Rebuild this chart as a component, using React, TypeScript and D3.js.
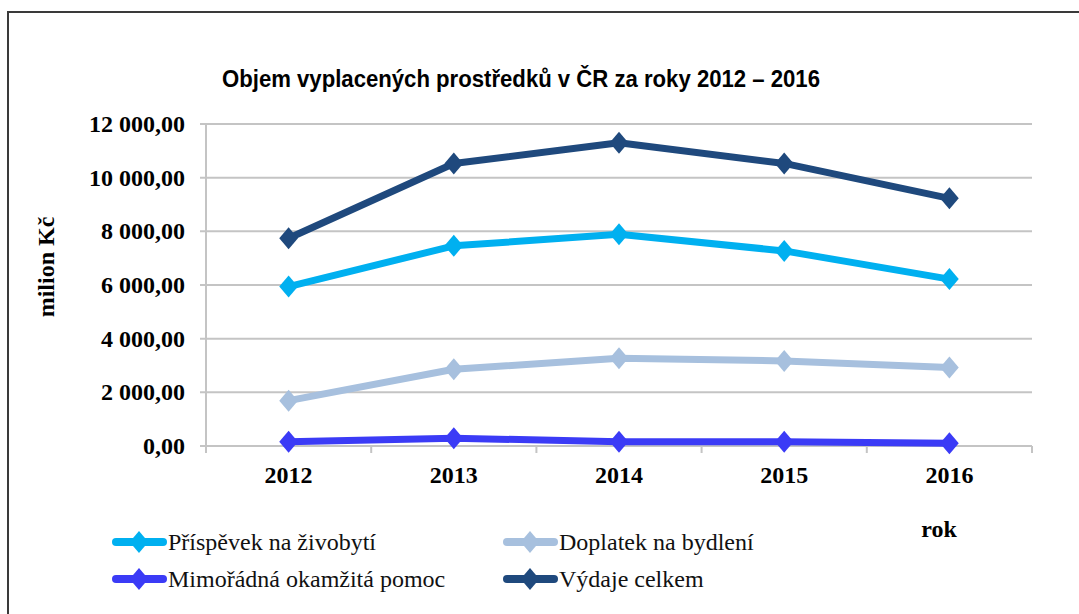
import React, { useEffect, useRef } from 'react';
import * as d3 from 'd3';

// Chart data
const years = ['2012', '2013', '2014', '2015', '2016'];
const prispevek = [5940, 7460, 7890, 7270, 6220];
const doplatek = [1690, 2860, 3270, 3170, 2930];
const mimoradna = [160, 290, 160, 160, 100];
const vydaje = [7740, 10530, 11300, 10530, 9230];
const yTicks = [0, 2000, 4000, 6000, 8000, 10000, 12000];

const seriesNames = ['Příspěvek na živobytí', 'Doplatek na bydlení', 'Mimořádná okamžitá pomoc', 'Výdaje celkem'];
const seriesValues = [prispevek, doplatek, mimoradna, vydaje];
const seriesColors = ['#00b0f0', '#a7c0de', '#3b3bf6', '#1f497d'];

const SERIF = '"Liberation Serif", "DejaVu Serif", "Times New Roman", serif';

const App = () => {
  const svgRef = useRef<SVGSVGElement>(null);

  useEffect(() => {
    const svg = d3.select(svgRef.current);
    svg.selectAll('*').remove();

    // plot box in page pixels
    const left = 206, right = 1032, top = 124, bottom = 446;

    // outer frame (runs off the right and bottom edge)
    svg.append('rect')
      .attr('x', 8).attr('y', 12)
      .attr('width', 1200).attr('height', 800)
      .attr('fill', '#fff')
      .attr('stroke', '#3a3a3a')
      .attr('stroke-width', 2);

    const x = d3.scaleBand().domain(years).range([left, right]).padding(0);
    const y = d3.scaleLinear().domain([0, 12000]).range([bottom, top]);

    // title
    svg.append('text')
      .attr('x', 521).attr('y', 87)
      .attr('text-anchor', 'middle')
      .attr('textLength', 598)
      .attr('lengthAdjust', 'spacingAndGlyphs')
      .style('font-family', '"Liberation Sans Narrow", "Liberation Sans", Arial, sans-serif')
      .style('font-weight', 'bold')
      .style('font-size', '23px')
      .text('Objem vyplacených prostředků v ČR za roky 2012 – 2016');

    // horizontal grid
    svg.append('g')
      .selectAll('line')
      .data(yTicks)
      .enter().append('line')
      .attr('x1', left - 6).attr('x2', right)
      .attr('y1', d => y(d)).attr('y2', d => y(d))
      .attr('stroke', '#c4c4c4')
      .attr('stroke-width', 2);

    // y axis line
    svg.append('line')
      .attr('x1', left).attr('x2', left)
      .attr('y1', top).attr('y2', bottom)
      .attr('stroke', '#c4c4c4').attr('stroke-width', 2);

    // x tick marks at band edges
    const edges = years.map(d => x(d) as number).concat([right]);
    svg.append('g')
      .selectAll('line')
      .data(edges)
      .enter().append('line')
      .attr('x1', d => d).attr('x2', d => d)
      .attr('y1', bottom).attr('y2', bottom + 7)
      .attr('stroke', '#c4c4c4').attr('stroke-width', 2);

    // y tick labels
    const fmt = (v: number) => d3.format(',.2f')(v).replace(/,/g, ' ').replace('.', ',');
    svg.append('g')
      .selectAll('text')
      .data(yTicks)
      .enter().append('text')
      .attr('x', 185)
      .attr('y', d => y(d) + 8)
      .attr('text-anchor', 'end')
      .style('font-family', SERIF)
      .style('font-weight', 'bold')
      .style('font-size', '24px')
      .text(d => fmt(d));

    // x tick labels
    svg.append('g')
      .selectAll('text')
      .data(years)
      .enter().append('text')
      .attr('x', d => (x(d) as number) + x.bandwidth() / 2)
      .attr('y', 483)
      .attr('text-anchor', 'middle')
      .style('font-family', SERIF)
      .style('font-weight', 'bold')
      .style('font-size', '24px')
      .text(d => d);

    // axis titles
    svg.append('text')
      .attr('transform', 'translate(54,267) rotate(-90)')
      .attr('text-anchor', 'middle')
      .style('font-family', SERIF)
      .style('font-weight', 'bold')
      .style('font-size', '24px')
      .text('milion Kč');

    svg.append('text')
      .attr('x', 939).attr('y', 537)
      .attr('text-anchor', 'middle')
      .style('font-family', SERIF)
      .style('font-weight', 'bold')
      .style('font-size', '24px')
      .text('rok');

    const line = d3.line<number>()
      .x((_, i) => (x(years[i]) as number) + x.bandwidth() / 2)
      .y(d => y(d));

    const diamond = (cx: number, cy: number, r: number) =>
      `M${cx},${cy - r}L${cx + r * 0.85},${cy}L${cx},${cy + r}L${cx - r * 0.85},${cy}Z`;

    seriesValues.forEach((vals, si) => {
      const g = svg.append('g');
      g.append('path')
        .attr('d', line(vals))
        .attr('fill', 'none')
        .attr('stroke', seriesColors[si])
        .attr('stroke-width', 7)
        .attr('stroke-linejoin', 'round');
      g.selectAll('path.m')
        .data(vals)
        .enter().append('path')
        .attr('class', 'm')
        .attr('d', (d, i) => diamond((x(years[i]) as number) + x.bandwidth() / 2, y(d), 11))
        .attr('fill', seriesColors[si]);
    });

    // legend
    const legendPos = [
      { x: 112, y: 542 },
      { x: 503, y: 542 },
      { x: 112, y: 579 },
      { x: 503, y: 579 },
    ];
    seriesNames.forEach((name, si) => {
      const p = legendPos[si];
      const g = svg.append('g');
      g.append('line')
        .attr('x1', p.x + 4).attr('x2', p.x + 51)
        .attr('y1', p.y).attr('y2', p.y)
        .attr('stroke', seriesColors[si])
        .attr('stroke-width', 8)
        .attr('stroke-linecap', 'round');
      g.append('path')
        .attr('d', diamond(p.x + 27, p.y, 11))
        .attr('fill', seriesColors[si]);
      g.append('text')
        .attr('x', p.x + 56).attr('y', p.y + 8)
        .style('font-family', SERIF)
        .style('font-size', '24px')
        .attr('fill', '#111')
        .text(name);
    });
  }, []);

  return (
    <svg
      ref={svgRef}
      width={1079}
      height={614}
      style={{ position: 'absolute', left: 0, top: 0, background: '#fff' }}
    />
  );
};

export default App;
